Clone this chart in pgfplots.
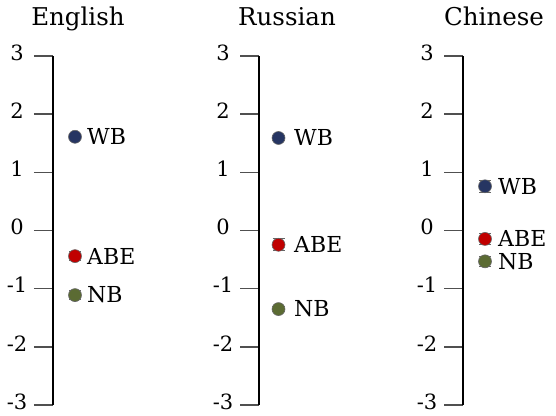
\documentclass[border=0pt]{standalone}
\usepackage{pgfplots}
\pgfplotsset{compat=1.18}
\usepackage{fontspec}
\setmainfont{DejaVu Serif}
\definecolor{cWB}{HTML}{263562}
\definecolor{cABE}{HTML}{C00000}
\definecolor{cNB}{HTML}{5B6B33}
\definecolor{tickgray}{HTML}{505050}
\pgfplotsset{
  panel/.style={
    x=1pt, y=58.2pt,
    xmin=0, xmax=60, ymin=-3, ymax=3,
    anchor=origin,
    axis x line=none,
    axis y line*=left,
    y axis line style={-, black, line width=1.5pt},
    ytick={-3,-2,-1,0,1,2,3},
    yticklabels={-3,-2,-1,0,1,2,3},
    tick align=outside,
    major tick length=19pt,
    every tick/.style={tickgray, line width=1.4pt},
    yticklabel style={anchor=center, inner sep=0pt, xshift=-17pt, yshift=3.5pt, font=\fontsize{21}{24}\selectfont},
    clip=false,
    scale only axis,
  },
  pt/.style={only marks, mark=*, mark size=6.5pt,
    mark options={draw=gray!80!black, line width=0.6pt, fill=#1},
    error bars/.cd, y dir=both, y explicit,
    error bar style={gray!80!black, line width=1pt},
    error mark options={rotate=90, mark size=6pt, line width=1pt, gray!80!black}},
}
\newcommand{\lab}[3]{\node[anchor=west, inner sep=0pt, font=\fontsize{22}{26}\selectfont] at (axis cs:#1,#2) {#3};}
\newcommand{\ttl}[2]{\node[anchor=base, inner sep=0pt, font=\fontsize{24.5}{29}\selectfont] at ([yshift=30pt]axis cs:#1,3) {#2};}
\begin{document}
\begin{tikzpicture}
\useasboundingbox (0,0) rectangle (556pt,415pt);
% English
\begin{axis}[panel, at={(53pt,184.5pt)}]
\addplot[pt=cWB] coordinates {(22,1.61) +- (0,0.03)};
\addplot[pt=cABE] coordinates {(22,-0.44) +- (0,0.08)};
\addplot[pt=cNB] coordinates {(22,-1.11) +- (0,0.08)};
\lab{34}{1.61}{WB}
\lab{34}{-0.44}{ABE}
\lab{34}{-1.11}{NB}
\ttl{25}{English}
\end{axis}
% Russian
\begin{axis}[panel, at={(259pt,184.5pt)}]
\addplot[pt=cWB] coordinates {(19.5,1.59) +- (0,0.04)};
\addplot[pt=cABE] coordinates {(19.5,-0.245) +- (0,0.1)};
\addplot[pt=cNB] coordinates {(19.5,-1.35) +- (0,0.05)};
\lab{35}{1.59}{WB}
\lab{35}{-0.245}{ABE}
\lab{35}{-1.35}{NB}
\ttl{28}{Russian}
\end{axis}
% Chinese
\begin{axis}[panel, at={(463pt,184.5pt)}]
\addplot[pt=cWB] coordinates {(22,0.76) +- (0,0.1)};
\addplot[pt=cABE] coordinates {(22,-0.145) +- (0,0.1)};
\addplot[pt=cNB] coordinates {(22,-0.53) +- (0,0.08)};
\lab{35}{0.76}{WB}
\lab{35}{-0.145}{ABE}
\lab{35}{-0.53}{NB}
\ttl{31}{Chinese}
\end{axis}
\end{tikzpicture}
\end{document}
